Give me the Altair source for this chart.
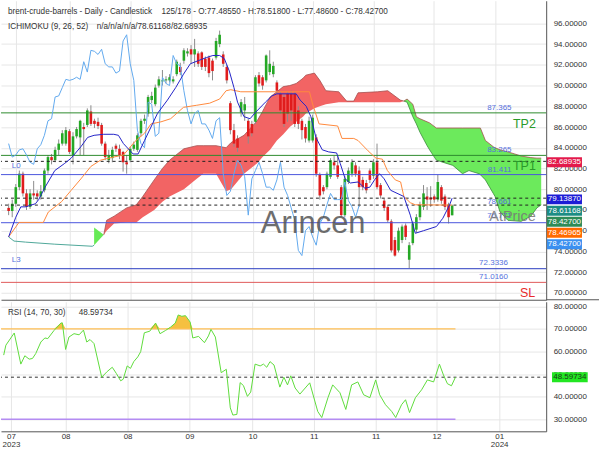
import altair as alt
import pandas as pd

FONT = "Liberation Sans"

# ---------------- candles ----------------
opens = [78.2,77.9,78.6,80.2,81.5,79.6,78.3,79.6,79.6,79.3,
79.9,81.8,83.1,82.8,83.8,84.4,84.4,85.6,83.3,85.1,
85.0,86.0,86.2,87.5,86.6,86.5,86.2,84.4,82.8,83.0,
84.2,83.9,83.6,82.6,82.8,83.9,83.8,85.4,86.6,87.3,
88.6,88.2,90.0,90.4,90.5,90.5,90.4,91.1,91.8,92.4,
93.1,93.5,93.0,93.1,93.2,92.6,92.7,92.4,92.7,94.0,
93.0,91.8,88.3,85.7,84.9,87.4,87.6,86.6,86.3,86.5,
91.0,90.8,90.5,91.3,91.1,90.3,89.2,88.9,89.2,89.2,
89.2,87.6,86.6,86.0,84.7,84.7,85.0,81.4,80.2,80.2,
81.2,82.6,82.3,80.2,77.5,80.7,81.5,82.3,81.8,80.9,
80.6,81.8,81.3,82.6,80.4,78.9,78.3,76.9,75.1,74.1,
75.1,76.5,73.2,74.8,76.1,77.3,78.3,79.3,79.2,79.3,
79.0,80.2,79.3,78.5,77.4855]
highs = [78.6,79.0,80.5,81.8,81.7,80.0,80.0,80.8,79.9,80.4,
82.0,83.3,83.4,84.1,84.8,85.7,86.0,85.8,85.5,86.0,
86.7,86.4,87.8,88.1,86.8,86.9,86.4,84.6,83.8,84.1,
84.4,84.3,83.7,83.3,84.1,84.6,85.4,86.8,87.2,89.1,
89.4,90.1,90.9,91.5,90.9,91.1,90.9,92.5,92.2,93.6,
93.6,93.9,94.5,93.3,93.3,92.8,92.9,92.6,94.6,95.3,
93.3,92.0,88.5,86.3,85.2,88.7,88.9,86.8,86.6,91.0,
91.3,91.0,93.0,93.4,92.3,90.5,89.4,89.1,89.4,89.5,
89.4,88.0,86.8,86.3,87.0,87.2,85.3,81.6,80.4,81.7,
83.0,83.2,83.2,80.4,81.3,82.1,82.9,82.6,82.2,81.2,
80.9,82.0,82.9,84.4,80.6,79.1,78.5,77.1,75.4,76.3,
76.6,76.7,74.9,76.9,77.6,78.8,80.4,80.2,80.3,79.5,
81.4,80.4,79.5,78.7,78.518]
lows = [77.5,77.3,78.3,79.9,79.3,78.0,78.1,79.0,78.9,79.0,
79.7,81.5,82.4,82.6,83.3,84.2,84.2,83.4,82.4,84.9,
83.3,83.3,86.0,86.1,85.9,85.8,84.2,82.8,82.5,82.6,
83.6,82.9,81.7,81.5,82.6,83.7,83.6,85.1,86.3,87.0,
88.3,88.0,89.8,90.0,90.2,90.3,90.2,90.9,91.0,92.1,
92.8,92.1,91.8,91.8,91.5,91.4,90.8,90.5,92.5,93.7,
91.8,90.2,85.3,84.1,83.6,87.0,86.6,84.4,85.1,86.3,
89.9,89.6,90.3,91.0,90.8,89.2,87.3,86.0,86.5,86.6,
86.0,85.8,84.8,84.5,84.5,84.5,81.2,79.0,79.5,80.0,
81.0,81.9,81.0,77.3,77.3,80.5,81.2,81.2,78.3,79.9,
79.6,80.6,81.0,80.0,79.1,77.9,76.8,73.9,73.5,73.9,
74.8,75.1,72.4,74.6,75.8,77.0,78.0,78.0,78.3,78.7,
78.8,78.6,78.0,76.7,77.486]
closes = [77.9,78.6,80.2,81.5,79.6,78.3,79.6,79.4,79.3,79.8,
81.8,83.1,82.8,83.8,84.4,85.4,85.7,83.6,85.1,85.8,
86.6,85.8,87.6,86.3,86.3,86.1,84.4,83.1,83.3,83.8,
83.9,83.3,82.6,82.4,83.9,84.3,85.2,86.6,86.8,88.9,
89.0,89.8,90.6,90.5,90.6,90.8,90.6,92.3,91.3,93.4,
93.3,93.0,93.5,92.1,91.8,91.8,91.2,91.4,94.3,94.9,
92.1,90.5,85.7,84.4,84.0,88.4,88.2,85.1,85.4,90.8,
90.2,90.0,92.9,92.1,91.9,89.5,87.6,86.3,87.3,87.6,
86.3,86.3,85.7,84.9,86.6,86.9,81.5,79.4,79.8,81.5,
82.8,82.3,81.2,77.5,81.0,81.8,82.6,81.5,80.2,80.2,
79.9,80.9,82.6,80.2,79.4,78.2,77.0,74.1,73.6,76.0,
76.4,75.4,74.6,76.7,77.3,78.5,79.6,79.0,79.0,79.0,
80.7,78.9,78.3,77.3,78.427]

# ---------------- ichimoku ----------------
tenkan_i = [0,2,3.4,4.7,7.5,8.4,10.2,12.9,15.7,17.5,20.2,22.1,23.9,26.6,29.4,30.7,32.1,34.8,36.2,38,
            39.8,41.6,44.4,46.7,48.9,50.8,53,55.3,57.1,59,60.3,61.7,63,64,65.8,67.5,69,71.8,73.6,75,
            80.4,81.5,83.2,84.5,85.9,87.7,89.5,91.7,92.7,94.1,95.5,97.7,99.6,101,102.3,103.7,105,106.8,
            110.5,112.3,113.7,116,119.6,121.4,123.3,124]
tenkan_v = [75.4,77.3,78.3,78.3,78.6,79.0,80.2,81.8,82.5,83.0,84.1,85.0,85.2,85.3,85.3,85.2,84.4,83.4,83.4,84.7,
            86.0,87.3,88.6,89.8,91.1,92.1,92.4,92.7,92.9,92.9,92.6,91.4,89.8,88.4,87.0,86.8,87.4,88.4,89.0,89.2,
            89.2,88.6,88.0,87.0,85.0,83.8,83.6,83.5,82.5,81.0,80.6,80.7,80.1,80.2,80.9,81.5,81.0,79.9,
            79.3,77.5,75.75,76.0,76.4,77.2,78.5,79.1387]
kijun_i = [0,2.9,9.7,11.1,14.8,17.5,20.2,23,25.7,29.3,32.1,35.3,38,39.8,42.6,45.3,48.9,52.6,56.2,59,
           60.8,62.1,64.9,84.1,85,86.8,92,93.2,96.5,97.7,100.5,102.7,104.5,105.9,108.1,109.6,110.5,112.3,113.7,124]
kijun_v = [75.4,76.8,76.8,77.8,78.8,79.9,81.0,82.2,82.8,83.1,83.3,84.6,85.4,86.3,86.5,86.8,87.9,88.1,88.3,88.7,
           89.5,89.6,89.4,89.4,88.2,86.3,86.1,84.9,84.9,84.7,83.7,83.0,82.9,81.8,80.9,80.7,79.3,78.7,78.5,78.46965]
spanA_pre_i = [0,1.5,4.7,12.9,23.4,23.9]
spanA_pre_v = [75.4,75.0,74.9,74.7,74.5,74.6]

tri_i = [23.9,26.6]
tri_top = [76.3,75.6]
tri_bot = [74.6,75.6]

red_i = [26.6,27.4,29.5,33,35.7,37.5,40.7,43,45,49,52.6,54.4,58,60.8,62.2,65.8,69.5,71,73.1,75,
         76.8,78.6,80.4,82.3,83.1,85.5,87,88.7,92.3,94.5,96.5,97.7,103.2,106,109.5,110.5]
red_top = [75.6,77.0,77.4,78.2,78.5,79.3,80.9,82.0,82.8,83.9,84.2,84.2,84.2,84.0,84.5,85.2,86.6,87.5,88.9,89.4,
           89.9,90.0,90.2,90.7,91.0,91.2,90.5,89.5,89.4,88.5,88.5,89.3,89.4,89.5,88.6,88.5]
red_bot = [75.6,76.0,76.7,76.8,76.8,77.3,78.0,78.8,79.3,80.0,81.0,81.5,81.5,79.8,80.0,81.5,82.5,83.1,83.8,84.7,
           85.3,86.0,86.5,87.0,87.3,87.8,88.0,88.2,88.4,88.4,88.4,88.4,88.4,88.4,88.4,88.5]

green_i = [110.5,111.4,113,114,115,117,117.7,119.6,124.2,126.9,128.7,131.5,131.9,133.3,135.5,136,137.4,139.6,
           141.5,143.3,146,147.7,148.9]
green_top = [88.5,88.7,88.2,87.0,86.8,86.5,86.4,85.9,85.9,85.9,85.9,85.9,85.9,84.7,84.1,84.0,83.8,83.6,
             83.4,83.2,83.05,83.0,83.0]
green_bot = [88.5,88.4,87.0,86.3,85.5,84.2,83.8,82.8,82.3,81.5,81.8,81.5,81.4,80.9,79.6,79.3,77.8,77.0,
             76.95,76.9,77.4,78.2,78.5]

# ---------------- RSI ----------------
rsi_i = [0,0.6,2.9,4.7,5.8,7,7.9,8.8,10.2,11.3,12.1,13.8,15.7,16.1,17,17.9,19.3,20.7,21.9,22.8,
         23.7,24.8,26.9,28.4,29.8,30.9,32.1,32.8,33.9,34.8,35.7,36.8,37.6,38.6,40.1,41.7,42.9,44.4,45.8,47.1,
         47.9,48.9,49.9,51.2,51.9,53.5,55.1,56.2,56.9,58.1,59.7,61.1,62.2,62.9,64,64.9,65.8,66.9,67.8,69,
         70.4,71.3,72.2,73.1,74.2,75.8,76.9,77.9,78.8,80,81.3,84,86.2,87.3,89,90.3,92.3,93.9,95.5,97.2,
         98.8,100.5,102.1,103.2,104.8,106.5,107.6,109.2,110.3,111.4,113,114.7,116.3,118,119.6,120.7,121.8,122.9,124]
rsi_v = [58.4,62.8,68.2,54.4,58.1,56.6,56.9,59.1,64.2,66.0,65.7,69.3,72.6,72.7,60.9,66.4,67.9,67.4,69.5,64.2,
         65.3,63.5,48.6,51.1,53.0,50.3,47.0,47.7,53.6,52.5,55.5,57.6,59.9,68.3,69.0,72.6,67.9,69.3,70.8,72.6,
         76.2,75.6,75.9,73.0,66.0,66.7,63.9,66.9,69.8,66.4,50.6,52.1,35.0,31.8,32.1,46.2,44.9,40.1,42.0,54.4,
         53.6,54.4,53.0,55.5,54.0,44.2,48.6,45.2,49.2,43.8,41.1,46.1,33.4,30.7,39.5,45.2,41.7,34.3,45.2,46.5,
         40.8,39.5,47.4,40.8,36.4,33.4,30.7,36.4,38.6,32.9,39.5,43.0,47.4,46.5,54.4,49.6,45.7,44.8,48.59734]

# ---------------- levels & labels ----------------
lvl_solid_p = [87.365, 83.265, 81.411, 76.771, 72.3336, 71.016]
lvl_solid_c = ["#2e8b2e", "#2e8b2e", "#4a55dd", "#4a55dd", "#2a3cc0", "#e05a5a"]
lvl_dash_p = [82.68935, 79.1387, 78.46965]

lab_text = ["87.365", "83.265", "81.411", "78.661", "76.771", "72.3336", "71.0160", "L0", "L3"]
lab_i = [140.6, 140.6, 140.6, 140.6, 140.6, 139.6, 139.6, 0.9, 0.9]
lab_p = [87.365, 83.265, 81.411, 78.661, 76.771, 72.3336, 71.016, 81.411, 72.3336]
lab_dy = [-5, -5, -5, -1.5, -6.5, -5.5, -5, -9, -8.7]
lab_align = ["right"] * 7 + ["left"] * 2

big_text = ["TP2", "TP1", "SL"]
big_p = [87.365, 83.265, 71.016]
big_col = ["#2a9a2a", "#2a9a2a", "#e82a2a"]

box_text = ["82.68935", "79.13870", "78.61168", "78.42700", "78.46965", "78.42700"]
box_col = ["#e3194b", "#1c1cd6", "#1c8c84", "#2e8b57", "#ff6a00", "#3a8ff0"]
box_slot = [82.60, 79.02, 77.92, 76.87, 75.81, 74.69]

tick_vals = [2, 17, 34, 51, 68.3, 85.1, 102.1, 118.8, 136]
tick_labels = ["07|2023", "08", "08", "09", "10", "11", "11", "12", "01|2024"]

# ---------------- scales & axes ----------------
XDOM = [-0.74, 148.9]
xs = alt.Scale(domain=XDOM, nice=False, zero=False)
ys = alt.Scale(domain=[69.34, 98.18], nice=False, zero=False)
rs = alt.Scale(domain=[24.6, 82.06], nice=False, zero=False)

def lbl(s):
    return "[" + ",".join("'%s'" % p for p in s.split("|")) + "]"

expr = "''"
for v, s in reversed(list(zip(tick_vals, tick_labels))):
    expr = f"datum.value == {v} ? {lbl(s)} : ({expr})"

XA_MAIN = alt.Axis(values=tick_vals, labels=False, ticks=False, grid=True, domain=True, title=None)
YA_MAIN = alt.Axis(orient="right", values=list(range(70, 97, 2)), format=".5f", ticks=False,
                   title=None, grid=True, labelPadding=7, domain=True)
XA_RSI = alt.Axis(values=tick_vals, labelExpr=expr, ticks=False, grid=True, domain=True, title=None,
                  labelPadding=1, labelLineHeight=8.5, labelFlush=False)
YA_RSI = alt.Axis(orient="right", values=[30, 40, 50, 60, 70, 80], format=".5f", ticks=False,
                  title=None, grid=True, labelPadding=7, domain=True)

def X(f="i"): return alt.X(f"{f}:Q", scale=xs, axis=XA_MAIN)
def Y(f): return alt.Y(f"{f}:Q", scale=ys, axis=YA_MAIN)
def RXe(f="i"): return alt.X(f"{f}:Q", scale=xs, axis=XA_RSI)
def RY(f): return alt.Y(f"{f}:Q", scale=rs, axis=YA_RSI)

n = len(closes)
cdf = pd.DataFrame({"i": list(range(n)), "o": opens, "h": highs, "l": lows, "c": closes})
chikou = pd.DataFrame({"i": list(range(n - 26)), "v": closes[26:]})
tdf = pd.DataFrame({"i": tenkan_i, "v": tenkan_v})
kdf = pd.DataFrame({"i": kijun_i, "v": kijun_v})
adf = pd.DataFrame({"i": spanA_pre_i, "v": spanA_pre_v})
tri = pd.DataFrame({"i": tri_i, "t": tri_top, "b": tri_bot})
red = pd.DataFrame({"i": red_i, "t": red_top, "b": red_bot})
grn = pd.DataFrame({"i": green_i, "t": green_top, "b": green_bot})

def cloud(df, col):
    return alt.Chart(df).mark_area(color=col, opacity=1, interpolate="linear").encode(
        x=X(), y=Y("t"), y2="b:Q")

def edge(df, field, col):
    return alt.Chart(df).mark_line(color=col, strokeWidth=0.8).encode(x=X(), y=Y(field))

def line(df, col, w=1.0):
    return alt.Chart(df).mark_line(color=col, strokeWidth=w).encode(x=X(), y=Y("v"))

wicks = alt.Chart(cdf).mark_rule(color="#8c8c8c", strokeWidth=1).encode(x=X(), y=Y("l"), y2="h:Q")
bodies = alt.Chart(cdf).mark_bar(size=2.6).encode(
    x=X(), y=Y("o"), y2="c:Q",
    color=alt.condition("datum.c >= datum.o", alt.value("#25a825"), alt.value("#e01c1c")))

sdf = pd.DataFrame({"p": lvl_solid_p, "col": lvl_solid_c})
solid = alt.Chart(sdf).mark_rule(strokeWidth=1).encode(y=Y("p"), color=alt.Color("col:N", scale=None))
ddf = pd.DataFrame({"p": lvl_dash_p})
dashed = alt.Chart(ddf).mark_rule(strokeWidth=1, color="#222222", strokeDash=[3, 3]).encode(y=Y("p"))

labdf = pd.DataFrame({"t": lab_text, "i": lab_i, "p": lab_p})
lab_layers = []
for k in range(len(lab_text)):
    lab_layers.append(
        alt.Chart(labdf.iloc[[k]]).mark_text(font=FONT, fontSize=8, color="#5570dd", align=lab_align[k],
                                             baseline="middle", dy=lab_dy[k]).encode(
            x=X(), y=Y("p"), text="t:N"))

bigdf = pd.DataFrame({"t": big_text, "p": big_p, "col": big_col, "i": [147.4, 147.4, 147.2]})
big = alt.Chart(bigdf).mark_text(font=FONT, fontSize=12.5, align="right", baseline="middle", dy=11).encode(
    x=X(), y=Y("p"), text="t:N", color=alt.Color("col:N", scale=None))

wm = pd.DataFrame({"t": ["Arincen"], "i": [85.15], "p": [76.64]})
watermark = alt.Chart(wm).mark_text(font=FONT, fontSize=31, color="#555555", opacity=0.85,
                                    align="center", baseline="middle").encode(x=X(), y=Y("p"), text="t:N")
ap = pd.DataFrame({"t": ["AtPrice"], "i": [147.4], "p": [76.771]})
atprice = alt.Chart(ap).mark_text(font=FONT, fontSize=14.5, color="#777777", opacity=0.85,
                                  align="right", baseline="middle", dy=-6).encode(x=X(), y=Y("p"), text="t:N")

bdf = pd.DataFrame({"t": box_text, "col": box_col, "s": box_slot})
bdf["y1"] = bdf["s"] - 0.48
bdf["y2"] = bdf["s"] + 0.48
bdf["x1"] = 150.5
bdf["x2"] = 160.3
bdf["xc"] = 155.4
boxes = alt.Chart(bdf).mark_rect().encode(
    x=X("x1"), x2="x2:Q", y=Y("y1"), y2="y2:Q", color=alt.Color("col:N", scale=None))
boxtext = alt.Chart(bdf).mark_text(font=FONT, fontSize=8, color="white", align="center",
                                   baseline="middle").encode(x=X("xc"), y=Y("s"), text="t:N")

hdr = pd.DataFrame({"t": ["brent-crude-barrels - Daily - Candlestick",
                          "125/178 - O:77.48550 - H:78.51800 - L:77.48600 - C:78.42700",
                          "ICHIMOKU (9, 26, 52)", "n/a/n/a/n/a/78.61168/82.68935"],
                    "px": [7, 161, 7, 96], "py": [11, 11, 26, 26]})
hdr_layers = [alt.Chart(hdr.iloc[[k]]).mark_text(font=FONT, fontSize=8.2, color="#333333", align="left",
                                                 baseline="middle").encode(
    x=alt.value(float(hdr.px[k])), y=alt.value(float(hdr.py[k])), text="t:N") for k in range(len(hdr))]

sep = alt.Chart(pd.DataFrame({"a": [0]})).mark_rule(color="#555555", strokeWidth=1).encode(
    x=alt.value(547), x2=alt.value(600), y=alt.value(300))

main = alt.layer(
    cloud(tri, "#66ea55"), cloud(red, "#f26464"), cloud(grn, "#6cea5c"),
    edge(red, "t", "#a55050"), edge(grn, "t", "#a55050"), edge(grn, "b", "#3c8c3c"),
    line(adf, "#4fa89a"),
    wicks, bodies,
    solid, dashed,
    line(chikou, "#62aaee"), line(kdf, "#ff8a3d"), line(tdf, "#2424c8"),
    *lab_layers, watermark, atprice, big, boxes, boxtext, *hdr_layers, sep,
).properties(width=547, height=300)

# ---------------- RSI panel ----------------
rdf = pd.DataFrame({"i": rsi_i, "r": rsi_v})
obdf = pd.DataFrame({"i": [-0.74], "i2": [124], "lv": [70]})
osdf = pd.DataFrame({"i": [-0.74], "i2": [124], "lv": [30]})
ob = alt.Chart(obdf).mark_rule(color="#ffbf55", strokeWidth=1.2).encode(x=RXe(), x2="i2:Q", y=RY("lv"))
os_ = alt.Chart(osdf).mark_rule(color="#b48cf2", strokeWidth=1.5).encode(x=RXe(), x2="i2:Q", y=RY("lv"))
fill = alt.Chart(rdf).transform_calculate(top="max(datum.r, 70)", base="70").mark_area(
    color="#f5c040").encode(x=RXe(), y=RY("top"), y2="base:Q")
rline = alt.Chart(rdf).mark_line(color="#5fdc3c", strokeWidth=1).encode(x=RXe(), y=RY("r"))
rdash = alt.Chart(pd.DataFrame({"lv": [48.59734]})).mark_rule(color="#333333", strokeDash=[3, 3]).encode(
    y=RY("lv"))
rbox = pd.DataFrame({"x1": [150.5], "x2": [160.3], "xc": [155.4], "y1": [48.59734 - 2.2],
                     "y2": [48.59734 + 2.2], "s": [48.59734], "t": ["48.59734"]})
rboxr = alt.Chart(rbox).mark_rect(color="#22e622").encode(x=RXe("x1"), x2="x2:Q", y=RY("y1"), y2="y2:Q")
rboxt = alt.Chart(rbox).mark_text(font=FONT, fontSize=8, color="#1a3a1a", align="center",
                                  baseline="middle").encode(x=RXe("xc"), y=RY("s"), text="t:N")
rhdr = pd.DataFrame({"t": ["RSI (14, 70, 30)", "48.59734"], "px": [7, 78]})
rhdr_layers = [alt.Chart(rhdr.iloc[[k]]).mark_text(font=FONT, fontSize=8.2, color="#333333", align="left",
                                                   baseline="middle").encode(
    x=alt.value(float(rhdr.px[k])), y=alt.value(11), text="t:N") for k in range(len(rhdr))]

rsi = alt.layer(fill, ob, os_, rdash, rline, rboxr, rboxt, *rhdr_layers).properties(width=547, height=130)

chart = alt.vconcat(main, rsi, spacing=1).properties(padding=0).configure_view(stroke=None).configure_axis(
    labelFont=FONT, labelFontSize=8, labelColor="#333333", gridColor="#e6e6e6", gridWidth=1,
    domainColor="#555555", domainWidth=1)

chart.save("out.html", embed_options={"renderer": "svg", "actions": False})
